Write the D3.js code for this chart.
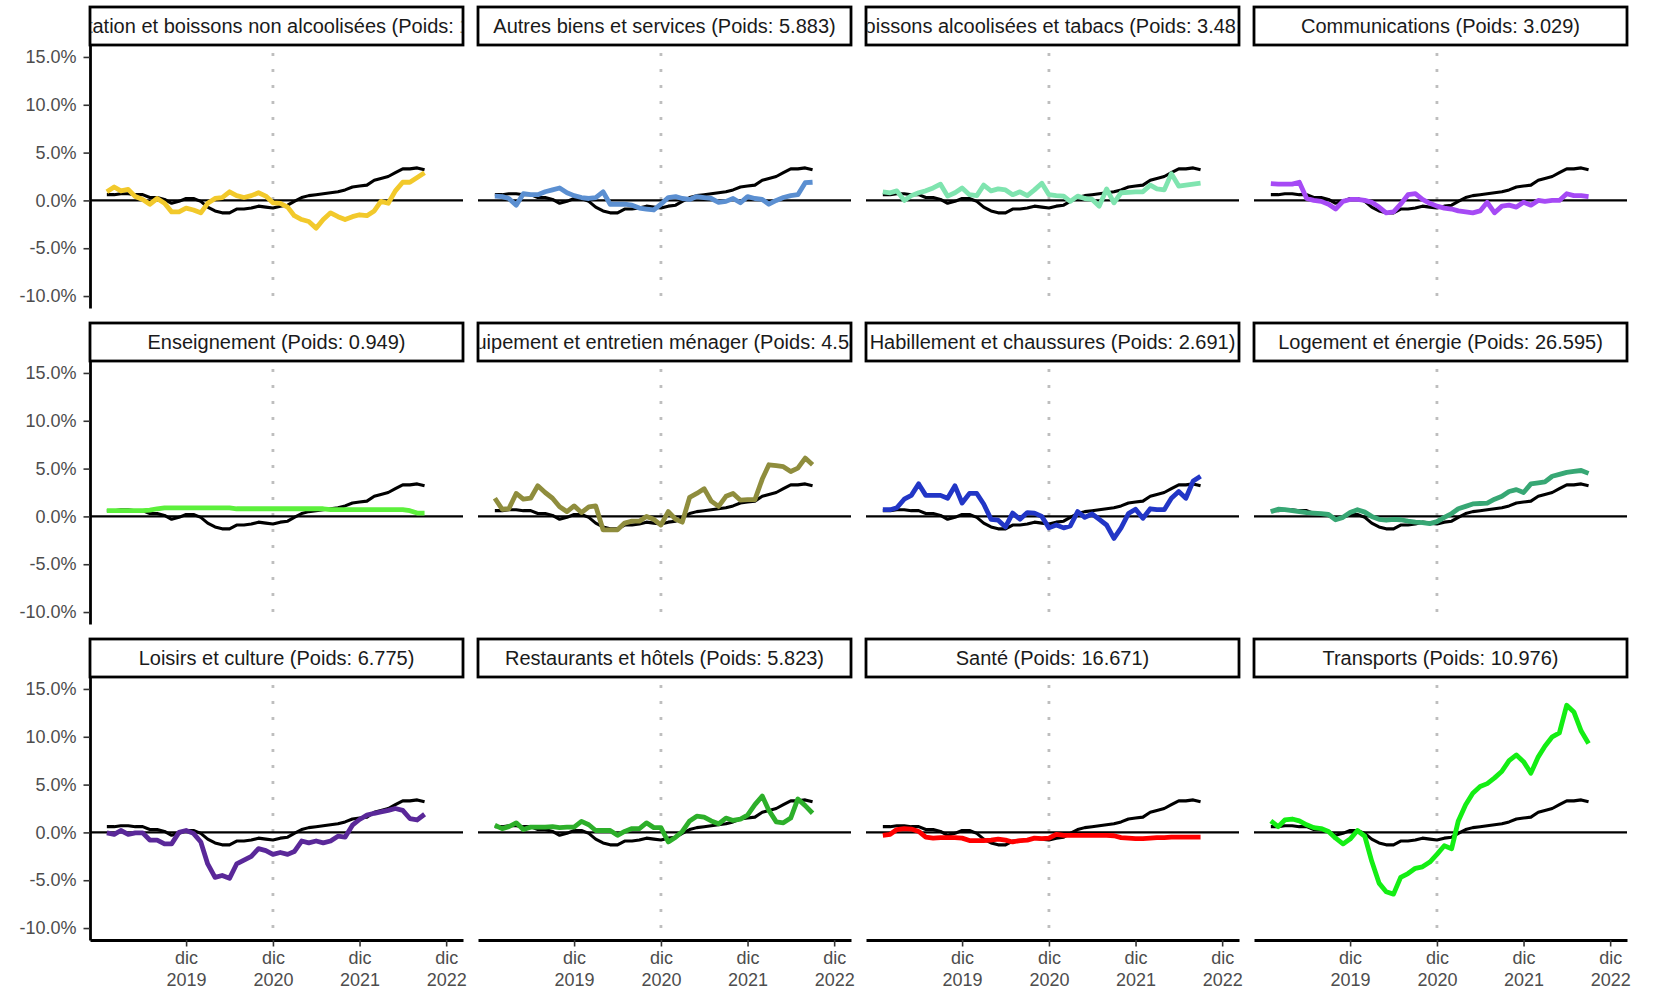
<!DOCTYPE html>
<html lang="fr">
<head>
  <meta charset="UTF-8">
  <title>Inflation par catégorie</title>
  <style>
    html, body { margin: 0; padding: 0; background: #fff; }
    #svg { display: block; font-family: "Liberation Sans", Arial, sans-serif; }
  </style>
</head>
<body>
  <svg id="svg" width="1658" height="990"></svg>

  <script src="https://cdn.jsdelivr.net/npm/d3@7"></script>
  <script>
    // monthly series, jan 2019 -> sep 2022
    const firstMonth = new Date(2019, 0, 1);
    const lastMonth = new Date(2022, 8, 1);
    const months = d3.timeMonth.range(firstMonth, d3.timeMonth.offset(lastMonth, 1));

    const categories = [
      'Alimentation et boissons non alcoolisées', 'Autres biens et services',
      'Boissons alcoolisées et tabacs', 'Communications',
      'Enseignement', 'Équipement et entretien ménager',
      'Habillement et chaussures', 'Logement et énergie',
      'Loisirs et culture', 'Restaurants et hôtels',
      'Santé', 'Transports'
    ];
    const weights = ['12.579', '5.883', '3.481', '3.029', '0.949', '4.548',
                     '2.691', '26.595', '6.775', '5.823', '16.671', '10.976'];
    const colors = ['#F2C92B', '#5B8FD1', '#7FE4AF', '#A64AF5', '#5CF03C', '#8F8D3D',
                    '#2236C6', '#37A774', '#5A2899', '#2DAF2A', '#FF0000', '#14EE14'];

    // general index, drawn in black in every panel
    const overall = [0.6, 0.6, 0.7, 0.7, 0.6, 0.6, 0.3, 0.3, 0.1, -0.3,
                     -0.1, 0.2, 0.2, -0.1, -0.7, -1.1, -1.3, -1.3, -0.9, -0.9,
                     -0.8, -0.6, -0.7, -0.8, -0.6, -0.5, -0.1, 0.3, 0.5, 0.6,
                     0.7, 0.8, 0.9, 1.1, 1.4, 1.5, 1.6, 2.1, 2.3, 2.5,
                     2.9, 3.3, 3.3, 3.4, 3.2];

    const alimentation = [0.9, 1.4, 1.0, 1.15, 0.4, 0.1, -0.4, 0.2, -0.3, -1.2,
                          -1.2, -0.8, -1.0, -1.3, -0.3, 0.2, 0.3, 0.9, 0.5, 0.3,
                          0.5, 0.8, 0.45, -0.25, -0.3, -0.7, -1.6, -2.0, -2.2, -2.9,
                          -2.0, -1.3, -1.7, -2.0, -1.7, -1.5, -1.6, -1.1, -0.1, -0.3,
                          1.0, 1.9, 1.9, 2.4, 2.9];
    const autres = [0.45, 0.4, 0.2, -0.5, 0.7, 0.6, 0.6, 0.9, 1.1, 1.3,
                    0.8, 0.5, 0.3, 0.2, 0.3, 0.9, -0.4, -0.4, -0.4, -0.5,
                    -0.8, -0.9, -1.0, -0.4, 0.3, 0.4, 0.2, 0.1, 0.4, 0.3,
                    0.2, -0.2, -0.1, 0.2, -0.25, 0.4, 0.2, 0.1, -0.4, 0.0,
                    0.3, 0.5, 0.6, 1.85, 1.9];
    const boissons = [0.9, 0.8, 1.0, 0.0, 0.5, 0.8, 1.0, 1.3, 1.7, 0.45,
                      0.8, 1.3, 0.6, 0.5, 1.6, 1.0, 1.2, 1.1, 0.6, 0.9,
                      0.5, 1.1, 1.8, 0.6, 0.5, 0.45, -0.1, 0.45, 0.2, 0.1,
                      -0.6, 1.2, -0.25, 0.8, 0.85, 0.9, 0.9, 1.6, 1.2, 1.1,
                      2.8, 1.5, 1.6, 1.7, 1.8];
    const communications = [1.75, 1.7, 1.7, 1.7, 1.9, 0.2, 0.0, -0.1, -0.4, -0.9,
                            -0.1, 0.1, 0.1, 0.0, -0.2, -0.7, -1.3, -1.2, -0.4, 0.6,
                            0.7, 0.1, -0.3, -0.6, -0.8, -0.9, -1.1, -1.2, -1.3, -1.1,
                            -0.2, -1.3, -0.6, -0.5, -0.7, -0.2, -0.5, 0.0, -0.1, 0.0,
                            0.0, 0.7, 0.5, 0.5, 0.4];
    const enseignement = [0.6, 0.6, 0.6, 0.6, 0.6, 0.6, 0.65, 0.8, 0.9, 0.9,
                          0.9, 0.9, 0.9, 0.9, 0.9, 0.9, 0.9, 0.9, 0.8, 0.8,
                          0.8, 0.8, 0.8, 0.8, 0.8, 0.8, 0.8, 0.8, 0.8, 0.8,
                          0.8, 0.7, 0.7, 0.7, 0.7, 0.7, 0.7, 0.7, 0.7, 0.7,
                          0.7, 0.7, 0.6, 0.35, 0.35];
    const equipement = [1.9, 0.75, 0.8, 2.4, 1.8, 1.9, 3.2, 2.5, 1.9, 1.0,
                        0.5, 1.1, 0.4, 1.0, 1.1, -1.4, -1.4, -1.4, -0.7, -0.5,
                        -0.5, 0.0, -0.3, -0.9, 0.5, -0.3, -0.6, 2.0, 2.4, 2.9,
                        1.6, 1.05, 2.1, 2.4, 1.7, 1.75, 1.75, 3.9, 5.4, 5.3,
                        5.2, 4.7, 5.05, 6.1, 5.4];
    const habillement = [0.7, 0.7, 0.9, 1.8, 2.2, 3.4, 2.2, 2.2, 2.2, 1.9,
                         3.2, 1.4, 2.4, 2.4, 1.3, -0.3, -0.4, -1.1, 0.35, -0.3,
                         0.4, 0.35, 0.0, -1.2, -0.9, -1.2, -1.0, 0.5, -0.1, 0.25,
                         -0.3, -0.9, -2.3, -1.2, 0.3, 0.75, -0.2, 0.8, 0.7, 0.7,
                         1.9, 2.6, 1.9, 3.7, 4.2];
    const logement = [0.5, 0.75, 0.7, 0.6, 0.5, 0.4, 0.35, 0.3, 0.2, -0.35,
                      -0.1, 0.4, 0.7, 0.45, 0.0, -0.3, -0.4, -0.3, -0.35, -0.5,
                      -0.6, -0.65, -0.75, -0.55, -0.1, 0.3, 0.8, 1.05, 1.3, 1.35,
                      1.4, 1.8, 2.1, 2.6, 2.8, 2.5, 3.4, 3.5, 3.6, 4.2,
                      4.4, 4.6, 4.7, 4.8, 4.5];
    const loisirs = [-0.05, -0.2, 0.2, -0.2, -0.05, -0.05, -0.8, -0.8, -1.2, -1.2,
                     0.0, 0.2, -0.1, -1.0, -3.3, -4.7, -4.5, -4.8, -3.3, -2.9,
                     -2.5, -1.7, -1.9, -2.3, -2.1, -2.3, -2.0, -0.9, -1.1, -0.9,
                     -1.1, -0.9, -0.4, -0.5, 0.75, 1.35, 1.8, 2.0, 2.15, 2.3,
                     2.5, 2.3, 1.45, 1.3, 1.9];
    const restaurants = [0.75, 0.4, 0.6, 1.0, 0.3, 0.55, 0.55, 0.55, 0.6, 0.5,
                         0.55, 0.55, 1.15, 0.8, 0.2, 0.2, 0.2, -0.3, 0.1, 0.4,
                         0.4, 1.0, 0.5, 0.5, -1.0, -0.5, 0.1, 1.2, 1.7, 1.6,
                         1.2, 0.9, 1.5, 1.25, 1.4, 1.8, 2.9, 3.8, 2.3, 1.1,
                         1.0, 1.5, 3.5, 2.8, 2.0];
    const sante = [-0.3, -0.2, 0.3, 0.4, 0.35, 0.1, -0.5, -0.6, -0.55, -0.55,
                   -0.55, -0.6, -0.85, -0.85, -0.85, -0.8, -0.7, -0.8, -1.0, -0.85,
                   -0.8, -0.6, -0.65, -0.6, -0.2, -0.3, -0.3, -0.3, -0.3, -0.3,
                   -0.3, -0.3, -0.35, -0.55, -0.6, -0.65, -0.65, -0.6, -0.55, -0.55,
                   -0.5, -0.5, -0.5, -0.5, -0.5];
    const transports = [1.2, 0.6, 1.3, 1.4, 1.2, 0.8, 0.5, 0.4, 0.1, -0.6,
                        -1.2, -0.7, 0.2, -0.4, -3.0, -5.3, -6.2, -6.45, -4.7, -4.3,
                        -3.75, -3.6, -3.1, -2.3, -1.4, -1.7, 1.2, 2.9, 4.1, 4.8,
                        5.1, 5.7, 6.4, 7.5, 8.1, 7.4, 6.2, 7.9, 9.0, 10.0,
                        10.4, 13.3, 12.6, 10.6, 9.3];

    const categoryValues = [alimentation, autres, boissons, communications,
                            enseignement, equipement, habillement, logement,
                            loisirs, restaurants, sante, transports];

    const yTicks = [-10, -5, 0, 5, 10, 15];
    const xTicks = [new Date(2019, 11, 1), new Date(2020, 11, 1),
                    new Date(2021, 11, 1), new Date(2022, 11, 1)];
    const xTickLabels = ['dic\n2019', 'dic\n2020', 'dic\n2021', 'dic\n2022'];
    const markerDate = new Date(2020, 11, 1);

    // facet layout
    const left0 = 90, top0 = 7;
    const panelW = 373, colPitch = 388;
    const stripH = 38, plotH = 263, rowPitch = 316;
    const nCols = 4, nRows = 3;

    const svg = d3.select('#svg');

    const x = d3.scaleTime()
      .domain([d3.timeDay.offset(firstMonth, -71), d3.timeDay.offset(xTicks[3], 71)])
      .range([0, panelW]);

    const y = d3.scaleLinear()
      .domain([-11.25, 16.25])
      .range([plotH, 0]);

    const line = d3.line()
      .x((d, i) => x(months[i]))
      .y(d => y(d));

    categories.forEach((cat, i) => {
      const col = i % nCols;
      const row = Math.floor(i / nCols);
      const g = svg.append('g')
        .attr('transform', `translate(${left0 + col * colPitch},${top0 + row * rowPitch + stripH})`);

      g.append('line')
        .attr('x1', x(markerDate)).attr('x2', x(markerDate))
        .attr('y1', 8).attr('y2', plotH)
        .attr('stroke', '#BEBEBE')
        .attr('stroke-width', 2.8)
        .attr('stroke-dasharray', '3,13');

      g.append('line')
        .attr('x1', 0).attr('x2', panelW)
        .attr('y1', y(0)).attr('y2', y(0))
        .attr('stroke', '#000')
        .attr('stroke-width', 2.4);

      g.append('path')
        .datum(overall)
        .attr('d', line)
        .attr('fill', 'none')
        .attr('stroke', '#000')
        .attr('stroke-width', 3.1)
        .attr('stroke-linejoin', 'round');

      g.append('path')
        .datum(categoryValues[i])
        .attr('d', line)
        .attr('fill', 'none')
        .attr('stroke', colors[i])
        .attr('stroke-width', 4.8)
        .attr('stroke-linejoin', 'round');

      if (col === 0) {
        const ya = g.append('g')
          .call(d3.axisLeft(y)
            .tickValues(yTicks)
            .tickFormat(d => d.toFixed(1) + '%')
            .tickSize(6.5)
            .tickSizeOuter(0)
            .tickPadding(7))
          .attr('font-family', '"Liberation Sans", Arial, sans-serif')
          .attr('font-size', 18);
        ya.select('.domain').attr('stroke', '#000').attr('stroke-width', 2.8);
        ya.selectAll('.tick line').attr('stroke', '#333').attr('stroke-width', 1.6);
        ya.selectAll('.tick text').attr('fill', '#4D4D4D');
      }

      if (row === nRows - 1) {
        const xa = g.append('g')
          .attr('transform', `translate(0,${plotH})`)
          .call(d3.axisBottom(x)
            .tickValues(xTicks)
            .tickSize(6.5)
            .tickSizeOuter(0))
          .attr('font-family', '"Liberation Sans", Arial, sans-serif')
          .attr('font-size', 18);
        xa.select('.domain').attr('stroke', '#000').attr('stroke-width', 2.8);
        xa.selectAll('.tick line').attr('stroke', '#333').attr('stroke-width', 1.6);
        xa.selectAll('.tick text').each(function (d, j) {
          const parts = xTickLabels[j].split('\n');
          const t = d3.select(this).text(null).attr('y', null).attr('dy', null).attr('fill', '#4D4D4D');
          t.append('tspan').attr('x', 0).attr('y', 24).text(parts[0]);
          t.append('tspan').attr('x', 0).attr('y', 46).text(parts[1]);
        });
      }

      // strip on top
      const strip = g.append('g').attr('transform', `translate(0,${-stripH})`);
      strip.append('clipPath')
        .attr('id', `clip${i}`)
        .append('rect')
        .attr('x', 1.5).attr('y', 1.5)
        .attr('width', panelW - 3).attr('height', stripH - 3);
      strip.append('rect')
        .attr('width', panelW)
        .attr('height', stripH)
        .attr('fill', '#fff')
        .attr('stroke', '#000')
        .attr('stroke-width', 2.8);
      strip.append('text')
        .attr('clip-path', `url(#clip${i})`)
        .attr('x', panelW / 2)
        .attr('y', stripH / 2)
        .attr('dy', '0.35em')
        .attr('text-anchor', 'middle')
        .attr('fill', '#1A1A1A')
        .style('font-size', '20px')
        .text(`${cat} (Poids: ${weights[i]})`);
    });
  </script>
</body>
</html>
